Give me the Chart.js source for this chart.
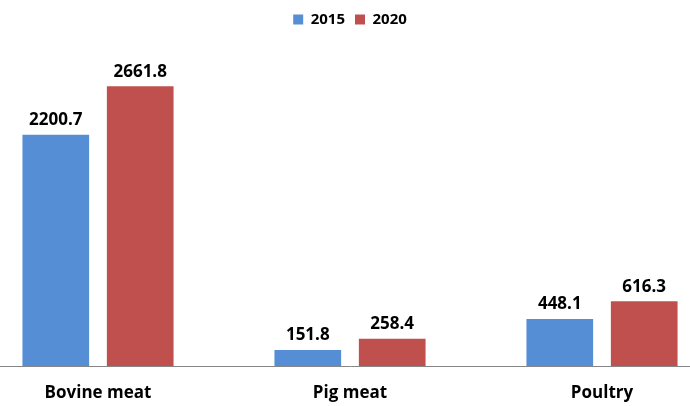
<!DOCTYPE html>
<html>
<head>
<meta charset="utf-8">
<script src="https://cdn.jsdelivr.net/npm/chart.js@4"></script>
<style>
    html, body { margin: 0; padding: 0; background: #ffffff; overflow: hidden; }
    #wrap { position: absolute; left: -28px; top: 0; width: 756px; height: 406px; }
</style>
</head>
<body>
<div id="wrap"><canvas id="chart"></canvas></div>
<script>
const CATEGORIES = ["Bovine meat", "Pig meat", "Poultry"];
const VALUES_2015 = [2200.7, 151.8, 448.1];
const VALUES_2020 = [2661.8, 258.4, 616.3];
const SERIES_LABELS = ["2015", "2020"];

const FONT = "'Open Sans', 'DejaVu Sans', sans-serif";

// draws the value above each bar
const valueLabels = {
    id: "valueLabels",
    afterDatasetsDraw(chart) {
        const ctx = chart.ctx;
        ctx.save();
        ctx.font = `bold 17px ${FONT}`;
        ctx.fillStyle = "#000000";
        ctx.textAlign = "center";
        ctx.textBaseline = "bottom";
        chart.data.datasets.forEach((dataset, i) => {
            const meta = chart.getDatasetMeta(i);
            meta.data.forEach((bar, j) => {
                ctx.fillText(dataset.data[j].toFixed(1), bar.x, bar.y - 6);
            });
        });
        ctx.restore();
    },
};

new Chart(document.getElementById("chart"), {
    type: "bar",
    data: {
        labels: CATEGORIES,
        datasets: [
            { label: SERIES_LABELS[0], data: VALUES_2015, backgroundColor: "#558ed5" },
            { label: SERIES_LABELS[1], data: VALUES_2020, backgroundColor: "#c0504d" },
        ],
    },
    options: {
        responsive: true,
        maintainAspectRatio: false,
        animation: false,
        layout: { padding: { top: 2, right: 0, bottom: 0, left: 0 } },
        datasets: {
            bar: { categoryPercentage: 0.67, barPercentage: 0.79 },
        },
        plugins: {
            legend: {
                display: true,
                position: "top",
                labels: {
                    boxWidth: 10,
                    boxHeight: 10,
                    padding: 10,
                    color: "#000000",
                    font: { family: FONT, size: 15, weight: "bold" },
                },
            },
            tooltip: { enabled: false },
        },
        scales: {
            x: {
                grid: { display: false, drawTicks: false },
                border: { display: true, color: "#868686", width: 1 },
                ticks: {
                    color: "#000000",
                    padding: 17,
                    font: { family: FONT, size: 17, weight: "bold" },
                },
                afterFit(scale) {
                    scale.height = 40;
                },
            },
            y: {
                display: false,
                min: 0,
                max: 3130,
            },
        },
    },
    plugins: [valueLabels],
});
</script>
</body>
</html>
